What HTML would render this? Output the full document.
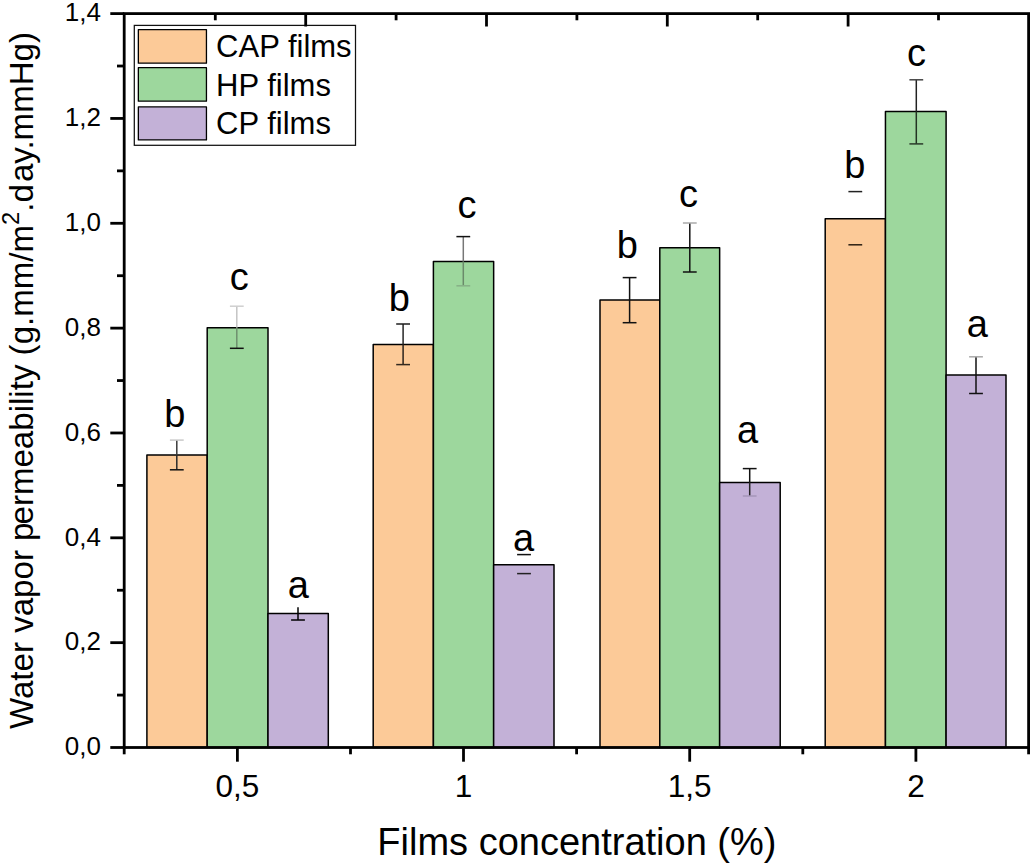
<!DOCTYPE html>
<html lang="en"><head><meta charset="utf-8"><title>Water vapor permeability</title>
<style>html,body{margin:0;padding:0;background:#fff}svg{display:block}text{font-family:"Liberation Sans",sans-serif;fill:#000}</style></head><body>
<svg width="1034" height="865" viewBox="0 0 1034 865">
<rect width="1034" height="865" fill="#fff"/>
<g stroke="#000" stroke-width="1.5" stroke-linejoin="round">
<rect x="146.90" y="455.00" width="60.30" height="292.50" fill="#FCCA98"/>
<rect x="207.20" y="327.70" width="60.80" height="419.80" fill="#9DD79D"/>
<rect x="268.00" y="613.40" width="60.30" height="134.10" fill="#C3B1D7"/>
<rect x="373.20" y="344.50" width="60.20" height="403.00" fill="#FCCA98"/>
<rect x="433.40" y="261.50" width="60.25" height="486.00" fill="#9DD79D"/>
<rect x="493.65" y="564.70" width="60.35" height="182.80" fill="#C3B1D7"/>
<rect x="600.00" y="300.00" width="59.80" height="447.50" fill="#FCCA98"/>
<rect x="659.80" y="247.70" width="59.85" height="499.80" fill="#9DD79D"/>
<rect x="719.65" y="482.40" width="60.55" height="265.10" fill="#C3B1D7"/>
<rect x="825.20" y="218.65" width="60.25" height="528.85" fill="#FCCA98"/>
<rect x="885.45" y="111.50" width="60.65" height="636.00" fill="#9DD79D"/>
<rect x="946.10" y="375.10" width="59.90" height="372.40" fill="#C3B1D7"/>
</g>
<g fill="none" stroke-width="1.5">
<line x1="176.8" y1="440.1" x2="176.8" y2="455.0" stroke="#3a3a3a"/>
<line x1="176.8" y1="455.0" x2="176.8" y2="469.8" stroke="#2a2a2a"/>
<line x1="169.9" y1="440.1" x2="183.70000000000002" y2="440.1" stroke="#c9c9c9"/>
<line x1="169.9" y1="469.8" x2="183.70000000000002" y2="469.8" stroke="#111"/>
<line x1="236.8" y1="306.2" x2="236.8" y2="327.7" stroke="#c4c4c4"/>
<line x1="236.8" y1="327.7" x2="236.8" y2="348.3" stroke="#6f8f6f"/>
<line x1="229.9" y1="306.2" x2="243.70000000000002" y2="306.2" stroke="#cfcfcf"/>
<line x1="229.9" y1="348.3" x2="243.70000000000002" y2="348.3" stroke="#111"/>
<line x1="298.0" y1="607.2" x2="298.0" y2="613.1" stroke="#000"/>
<line x1="298.0" y1="613.1" x2="298.0" y2="620.0" stroke="#000"/>
<line x1="291.1" y1="620.0" x2="304.9" y2="620.0" stroke="#000"/>
<line x1="403.1" y1="324.0" x2="403.1" y2="344.5" stroke="#262626"/>
<line x1="403.1" y1="344.5" x2="403.1" y2="364.6" stroke="#2a221c"/>
<line x1="396.20000000000005" y1="324.0" x2="410.0" y2="324.0" stroke="#1c1c1c"/>
<line x1="396.20000000000005" y1="364.6" x2="410.0" y2="364.6" stroke="#33291f"/>
<line x1="463.3" y1="236.6" x2="463.3" y2="261.5" stroke="#777"/>
<line x1="463.3" y1="261.5" x2="463.3" y2="285.8" stroke="#6a8a6a"/>
<line x1="456.40000000000003" y1="236.6" x2="470.2" y2="236.6" stroke="#111"/>
<line x1="456.40000000000003" y1="285.8" x2="470.2" y2="285.8" stroke="#86b086"/>
<line x1="517.1" y1="554.6" x2="530.9" y2="554.6" stroke="#111"/>
<line x1="517.1" y1="573.6" x2="530.9" y2="573.6" stroke="#222"/>
<line x1="629.6" y1="277.6" x2="629.6" y2="300.0" stroke="#111"/>
<line x1="629.6" y1="300.0" x2="629.6" y2="322.7" stroke="#111"/>
<line x1="622.7" y1="277.6" x2="636.5" y2="277.6" stroke="#111"/>
<line x1="622.7" y1="322.7" x2="636.5" y2="322.7" stroke="#111"/>
<line x1="689.8" y1="223.0" x2="689.8" y2="247.7" stroke="#111"/>
<line x1="689.8" y1="247.7" x2="689.8" y2="272.0" stroke="#111"/>
<line x1="682.9" y1="223.0" x2="696.6999999999999" y2="223.0" stroke="#aaa"/>
<line x1="682.9" y1="272.0" x2="696.6999999999999" y2="272.0" stroke="#111"/>
<line x1="749.7" y1="468.6" x2="749.7" y2="482.4" stroke="#111"/>
<line x1="749.7" y1="482.4" x2="749.7" y2="496.0" stroke="#222"/>
<line x1="742.8000000000001" y1="468.6" x2="756.6" y2="468.6" stroke="#111"/>
<line x1="742.8000000000001" y1="496.0" x2="756.6" y2="496.0" stroke="#a596b8"/>
<line x1="848.4" y1="191.6" x2="862.1999999999999" y2="191.6" stroke="#222"/>
<line x1="848.4" y1="244.8" x2="862.1999999999999" y2="244.8" stroke="#2a1e12"/>
<line x1="916.3" y1="79.8" x2="916.3" y2="111.5" stroke="#222"/>
<line x1="916.3" y1="111.5" x2="916.3" y2="143.9" stroke="#223322"/>
<line x1="909.4" y1="79.8" x2="923.1999999999999" y2="79.8" stroke="#444"/>
<line x1="909.4" y1="143.9" x2="923.1999999999999" y2="143.9" stroke="#2a3a2a"/>
<line x1="976.0" y1="356.8" x2="976.0" y2="375.1" stroke="#111"/>
<line x1="976.0" y1="375.1" x2="976.0" y2="393.5" stroke="#111"/>
<line x1="969.1" y1="356.8" x2="982.9" y2="356.8" stroke="#aaa"/>
<line x1="969.1" y1="393.5" x2="982.9" y2="393.5" stroke="#111"/>
</g>
<rect x="134.3" y="25.4" width="221.2" height="119.9" fill="#fff" stroke="#111" stroke-width="1.25"/>
<rect x="138.35" y="29.55" width="68.1" height="33.6" fill="#FCCA98" stroke="#000" stroke-width="1.3" stroke-linejoin="round"/>
<text x="216.1" y="57.00" font-size="31">CAP films</text>
<rect x="138.35" y="67.65" width="68.1" height="33.5" fill="#9DD79D" stroke="#000" stroke-width="1.3" stroke-linejoin="round"/>
<text x="216.1" y="95.50" font-size="31">HP films</text>
<rect x="138.35" y="106.95" width="68.1" height="33.0" fill="#C3B1D7" stroke="#000" stroke-width="1.3" stroke-linejoin="round"/>
<text x="216.1" y="134.00" font-size="31">CP films</text>
<g stroke="#000" stroke-width="2.8" fill="none" stroke-linecap="butt">
<rect x="124.2" y="13.6" width="904.3999999999999" height="733.9"/>
<line x1="110.3" y1="747.50" x2="124.2" y2="747.50"/>
<line x1="117.0" y1="695.08" x2="124.2" y2="695.08"/>
<line x1="110.3" y1="642.66" x2="124.2" y2="642.66"/>
<line x1="117.0" y1="590.24" x2="124.2" y2="590.24"/>
<line x1="110.3" y1="537.81" x2="124.2" y2="537.81"/>
<line x1="117.0" y1="485.39" x2="124.2" y2="485.39"/>
<line x1="110.3" y1="432.97" x2="124.2" y2="432.97"/>
<line x1="117.0" y1="380.55" x2="124.2" y2="380.55"/>
<line x1="110.3" y1="328.13" x2="124.2" y2="328.13"/>
<line x1="117.0" y1="275.71" x2="124.2" y2="275.71"/>
<line x1="110.3" y1="223.29" x2="124.2" y2="223.29"/>
<line x1="117.0" y1="170.86" x2="124.2" y2="170.86"/>
<line x1="110.3" y1="118.44" x2="124.2" y2="118.44"/>
<line x1="117.0" y1="66.02" x2="124.2" y2="66.02"/>
<line x1="110.3" y1="13.60" x2="124.2" y2="13.60"/>
<line x1="237.4" y1="747.5" x2="237.4" y2="761.7"/>
<line x1="463.5" y1="747.5" x2="463.5" y2="761.7"/>
<line x1="689.7" y1="747.5" x2="689.7" y2="761.7"/>
<line x1="915.9" y1="747.5" x2="915.9" y2="761.7"/>
<line x1="124.2" y1="747.5" x2="124.2" y2="754.3"/>
<line x1="350.5" y1="747.5" x2="350.5" y2="754.3"/>
<line x1="576.6" y1="747.5" x2="576.6" y2="754.3"/>
<line x1="802.8" y1="747.5" x2="802.8" y2="754.3"/>
<line x1="1028.6" y1="747.5" x2="1028.6" y2="754.3"/>
<line x1="215.30" y1="13.6" x2="215.30" y2="20.3"/>
<line x1="305.70" y1="13.6" x2="305.70" y2="26.5"/>
<line x1="396.10" y1="13.6" x2="396.10" y2="20.3"/>
<line x1="486.50" y1="13.6" x2="486.50" y2="26.5"/>
<line x1="576.90" y1="13.6" x2="576.90" y2="20.3"/>
<line x1="667.30" y1="13.6" x2="667.30" y2="26.5"/>
<line x1="757.70" y1="13.6" x2="757.70" y2="20.3"/>
<line x1="848.10" y1="13.6" x2="848.10" y2="26.5"/>
<line x1="938.50" y1="13.6" x2="938.50" y2="20.3"/>
</g>
<text x="101" y="755.30" font-size="26" text-anchor="end">0,0</text>
<text x="101" y="650.46" font-size="26" text-anchor="end">0,2</text>
<text x="101" y="545.61" font-size="26" text-anchor="end">0,4</text>
<text x="101" y="440.77" font-size="26" text-anchor="end">0,6</text>
<text x="101" y="335.93" font-size="26" text-anchor="end">0,8</text>
<text x="101" y="231.09" font-size="26" text-anchor="end">1,0</text>
<text x="101" y="126.24" font-size="26" text-anchor="end">1,2</text>
<text x="101" y="21.40" font-size="26" text-anchor="end">1,4</text>
<text x="237.4" y="797" font-size="31.5" text-anchor="middle">0,5</text>
<text x="463.5" y="797" font-size="31.5" text-anchor="middle">1</text>
<text x="689.7" y="797" font-size="31.5" text-anchor="middle">1,5</text>
<text x="915.9" y="797" font-size="31.5" text-anchor="middle">2</text>
<text x="576.9" y="855.3" font-size="38" text-anchor="middle">Films concentration (%)</text>
<text transform="translate(32.8 380.5) rotate(-90)" font-size="33.1" text-anchor="middle">Water vapor p<tspan dx="-2">ermeability (g.mm/m</tspan><tspan font-size="23.8" dy="-13.6">2</tspan><tspan dy="13.6">.d</tspan><tspan dx="2">ay.mmHg)</tspan></text>
<text x="164.19" y="427.1" font-size="38">b</text>
<text x="229.72" y="290.0" font-size="38">c</text>
<text x="287.63" y="598.3" font-size="38">a</text>
<text x="388.69" y="310.5" font-size="38">b</text>
<text x="457.42" y="217.6" font-size="38">c</text>
<text x="512.93" y="551.0" font-size="38">a</text>
<text x="616.69" y="258.1" font-size="38">b</text>
<text x="678.92" y="207.2" font-size="38">c</text>
<text x="737.03" y="442.6" font-size="38">a</text>
<text x="844.29" y="177.5" font-size="38">b</text>
<text x="906.92" y="66.1" font-size="38">c</text>
<text x="966.73" y="336.6" font-size="38">a</text>
</svg></body></html>
